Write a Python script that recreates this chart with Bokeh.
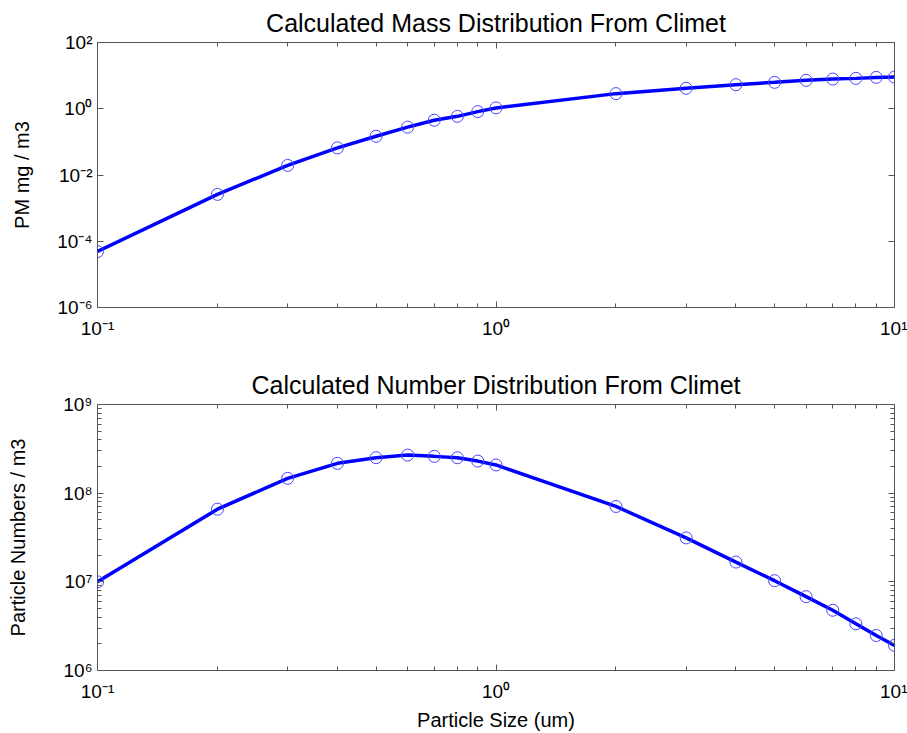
from bokeh.plotting import figure
from bokeh.layouts import column
from bokeh.models import (LogAxis, FixedTicker, CustomJSTickFormatter, Title)
from bokeh.embed import file_html
from bokeh.resources import INLINE

# ---- data ----
particle_size = [0.1, 0.2, 0.3, 0.4, 0.5, 0.6, 0.7, 0.8, 0.9, 1.0,
                 2.0, 3.0, 4.0, 5.0, 6.0, 7.0, 8.0, 9.0, 10.0]
mass_pm = [4.9e-5, 2.6e-3, 1.95e-2, 6.6e-2, 0.148, 0.278, 0.45, 0.59, 0.82, 1.06,
           2.86, 4.14, 5.33, 6.27, 7.2, 7.87, 8.26, 8.85, 9.06]
number_pm = [1.0e7, 6.6e7, 1.47e8, 2.17e8, 2.51e8, 2.69e8, 2.6e8, 2.51e8, 2.30e8, 2.08e8,
             7.08e7, 3.13e7, 1.67e7, 1.03e7, 6.8e6, 4.78e6, 3.36e6, 2.48e6, 1.92e6]

x_ticks = [0.1, 1.0, 10.0]
x_tick_labels = ["10\u207b\u00b9", "10\u2070", "10\u00b9"]
x_minor = [0.2, 0.3, 0.4, 0.5, 0.6, 0.7, 0.8, 0.9, 2, 3, 4, 5, 6, 7, 8, 9]

mass_ticks = [1e-6, 1e-4, 1e-2, 1e0, 1e2]
mass_tick_labels = ["10\u207b\u2076", "10\u207b\u2074", "10\u207b\u00b2", "10\u2070", "10\u00b2"]

num_ticks = [1e6, 1e7, 1e8, 1e9]
num_tick_labels = ["10\u2076", "10\u2077", "10\u2078", "10\u2079"]
num_minor = [m * 10 ** e for e in (6, 7, 8) for m in range(2, 10)]

titles = ["Calculated Mass Distribution From Climet",
          "Calculated Number Distribution From Climet"]
ylabels = ["PM mg / m3", "Particle Numbers / m3"]
xlabel = "Particle Size (um)"

FONT = "Liberation Sans"
FRAME = "#555555"


def fmt(tvals, tlabels):
    return CustomJSTickFormatter(args=dict(tvals=tvals, tlabels=tlabels), code="""
        for (let i = 0; i < tvals.length; i++) {
            if (Math.abs(Math.log10(tvals[i]) - Math.log10(tick)) < 1e-6) return tlabels[i];
        }
        return " ";
    """)


def blank_fmt():
    return CustomJSTickFormatter(code='return " ";')


def style_axis(ax, show_labels, standoff=6):
    ax.axis_line_color = None
    ax.major_tick_in = 6
    ax.major_tick_out = 0
    ax.minor_tick_in = 4
    ax.minor_tick_out = 0
    ax.major_tick_line_color = FRAME
    ax.minor_tick_line_color = FRAME
    ax.major_label_text_font = FONT
    ax.major_label_text_color = "black"
    if show_labels:
        ax.major_label_text_font_size = "19px"
        ax.major_label_standoff = standoff
    else:
        ax.major_label_text_font_size = "1px"
        ax.major_label_text_alpha = 0
        ax.major_label_standoff = 0


def label_style(ax, text, standoff):
    ax.axis_label = text
    ax.axis_label_text_font = FONT
    ax.axis_label_text_font_size = "20px"
    ax.axis_label_text_font_style = "normal"
    ax.axis_label_text_color = "black"
    ax.axis_label_standoff = standoff


def make_plot(y, yrange, yticks, ylabels_, yminor, title, ylabel, ylabel_standoff,
              height, border_top, border_bottom, show_xlabel):
    p = figure(width=907, height=height, x_axis_type="log", y_axis_type="log",
               x_range=(0.1, 10), y_range=yrange,
               output_backend="svg", toolbar_location=None,
               min_border_left=97, min_border_right=13,
               min_border_top=border_top, min_border_bottom=border_bottom)
    p.title = Title(text=title, align="center", text_font=FONT,
                    text_font_size="25px", text_font_style="normal",
                    text_color="black", standoff=12)
    p.outline_line_color = FRAME
    p.outline_line_width = 1
    p.grid.visible = False
    p.background_fill_color = "white"
    p.border_fill_color = "white"

    xt = FixedTicker(ticks=x_ticks, minor_ticks=x_minor)
    yt = FixedTicker(ticks=yticks, minor_ticks=yminor)

    p.xaxis.ticker = xt
    p.xaxis.formatter = fmt(x_ticks, x_tick_labels)
    p.yaxis.ticker = yt
    p.yaxis.formatter = fmt(yticks, ylabels_)
    for ax in p.xaxis:
        style_axis(ax, True, standoff=10)
    for ax in p.yaxis:
        style_axis(ax, True, standoff=5)
        label_style(ax, ylabel, ylabel_standoff)
    if show_xlabel:
        for ax in p.xaxis:
            label_style(ax, xlabel, 4)

    top = LogAxis(ticker=xt, formatter=blank_fmt())
    style_axis(top, False)
    right = LogAxis(ticker=yt, formatter=blank_fmt())
    style_axis(right, False)
    p.add_layout(top, "above")
    p.add_layout(right, "right")

    p.line(particle_size, y, line_color="#0000ff", line_width=3.5)
    p.scatter(particle_size, y, marker="circle", size=12, fill_color=None,
              line_color="#4646ff", line_width=1)
    return p


p1 = make_plot(mass_pm, (1e-6, 1e2), mass_ticks, mass_tick_labels, [],
               titles[0], ylabels[0], 21, 360, 41, 53, False)
p2 = make_plot(number_pm, (1e6, 1e9), num_ticks, num_tick_labels, num_minor,
               titles[1], ylabels[1], 31, 373, 44, 61, True)

layout = column(p1, p2, spacing=0)
open("out.html", "w").write(file_html(layout, INLINE))
